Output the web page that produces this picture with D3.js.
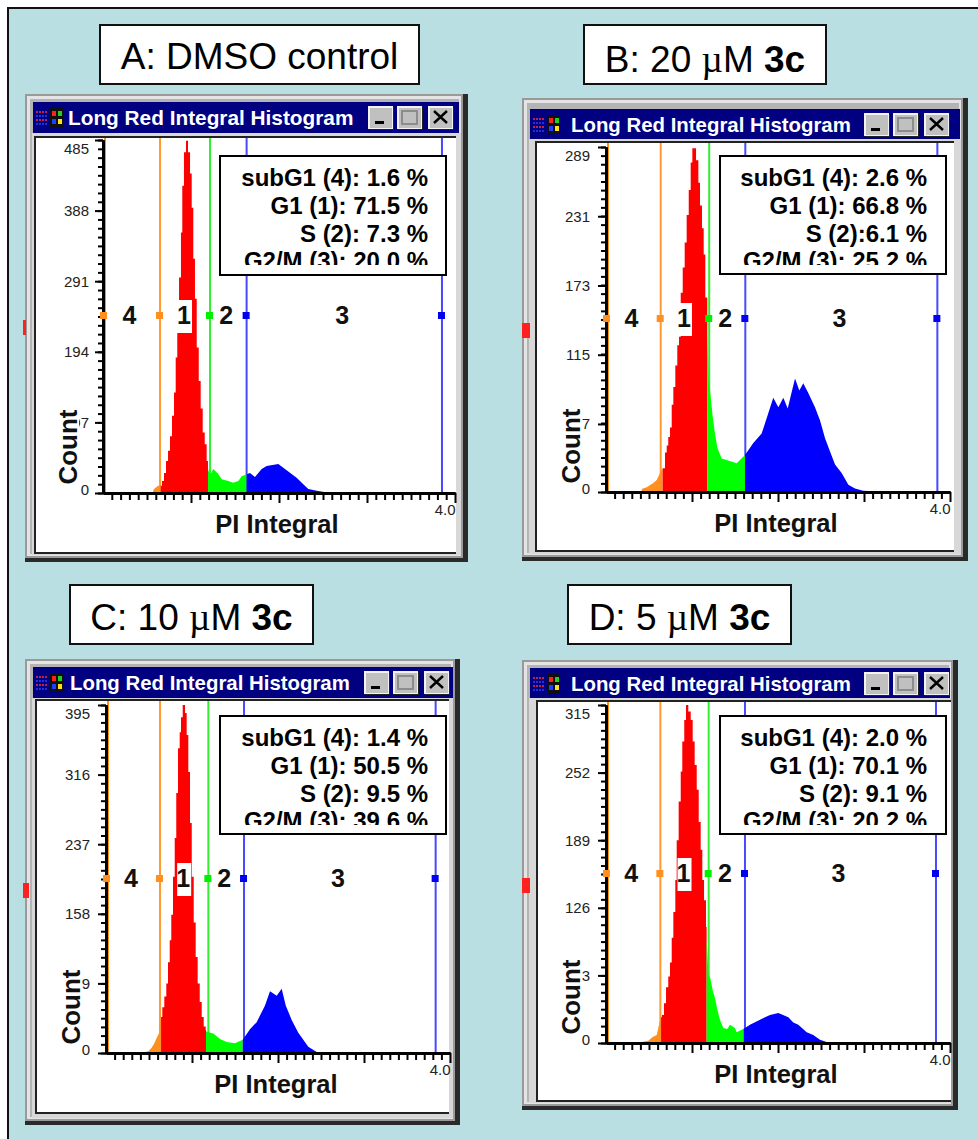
<!DOCTYPE html>
<html>
<head>
<meta charset="utf-8">
<script src="https://cdn.jsdelivr.net/npm/d3@7"></script>
<style>
  html, body { margin: 0; padding: 0; background: #fff; }
  svg { display: block; font-family: "Liberation Sans", Arial, sans-serif; }
</style>
</head>
<body>
<div id="chart"></div>
<script>
// histogram outlines: position (decades) and count
var aPos = [.57,.58,.625,.648,.67,.693,.716,.739,.761,.784,.807,.826,.844,.864,.886,.901,.92,.943,.966,.989,1.008,1.026,1.045,1.065,1.088,1.11,1.133,1.156,1.178,1.2,1.224,1.253,1.31,1.349,1.424,1.48,1.538,1.576,1.67,1.727,1.803,1.86,1.992,2.068,2.2,2.276,2.333,2.43,2.58];
var aCount = [3,5.5,10,10,16.5,27.5,44,58,78,106,138,186,220,296,358,422,468,484,468,439,392,322,267,200,154,116,83,67,44,30,26,33,26,19,16.5,14,16.5,23,27.5,22,33,37,40,33,21,12,5.5,3,0];

var bPos = [.415,.473,.55,.59,.628,.659,.686,.706,.724,.744,.764,.783,.806,.829,.849,.869,.892,.915,.938,.962,.985,1.004,1.047,1.074,1.093,1.116,1.136,1.155,1.178,1.194,1.217,1.241,1.267,1.295,1.345,1.52,1.616,1.713,1.81,1.887,1.945,2.004,2.062,2.113,2.16,2.198,2.248,2.294,2.352,2.43,2.488,2.547,2.605,2.663,2.74,2.818,2.895,2.99,3.3];
var bCount = [2.5,4,7.5,10,16,20,33,39,46,54,73,88,106,123,130,167,188,209,232,253,276,288,278,259,240,221,199,163,130,94,80,63,49,37,28,24,31,41,49,66,79,71,79,70,84,95,85,91,83,71,60,45,34,23,16,6,3,1,0];

var cPos = [.453,.492,.531,.562,.589,.62,.64,.655,.678,.701,.721,.741,.759,.779,.799,.817,.837,.857,.872,.892,.919,.938,.957,.977,.997,1.02,1.043,1.066,1.09,1.113,1.136,1.159,1.171,1.248,1.326,1.403,1.5,1.59,1.674,1.752,1.849,1.907,1.985,2.043,2.09,2.159,2.236,2.294,2.352,2.45,2.58];
var cCount = [1,2,6,11,17,23,41,52,64,79,103,128,157,200,244,295,346,364,381,395,386,361,319,261,200,148,109,79,58,41,30,26,24,22,16,12.5,11,15,27,35,54,70,65,73,54,37.5,23,15,7,1,0];

var dPos = [.415,.492,.543,.59,.636,.651,.674,.698,.724,.744,.764,.783,.806,.822,.845,.869,.887,.91,.93,.957,.985,1.008,1.031,1.055,1.078,1.101,1.12,1.14,1.163,1.19,1.217,1.241,1.267,1.295,1.326,1.364,1.41,1.442,1.5,1.52,1.616,1.674,1.849,1.907,2.004,2.12,2.178,2.236,2.334,2.41,2.488,2.566,2.81];
var dCount = [1,2,5.6,7.5,24,26,37,52,62,75,98,122,152,189,225,253,281,301,315,309,301,281,259,236,206,180,152,133,108,65,59,49,42,31,21.5,14,13,17,14,10,14,17,24,26,28,24,19,17,10,7.5,3,1,0];

// y tick labels of each window
var aTicks = [0,97,194,291,388,485];
var bTicks = [0,57,115,173,231,289];
var cTicks = [0,79,158,237,316,395];
var dTicks = [0,63,126,189,252,315];

// gates: orange, green, blue, right blue (decades)
var aGates = [.648,1.216,1.632,3.852];
var bGates = [.636,1.2,1.62,3.853];
var cGates = [.628,1.19,1.605,3.833];
var dGates = [.632,1.194,1.616,3.837];

// where the fill changes colour
var aBreaks = [.656,1.193,1.632];
var bBreaks = [.659,1.178,1.616];
var cBreaks = [.64,1.163,1.59];
var dBreaks = [.64,1.17,1.6];

var aStats = ["subG1 (4): 1.6 %","G1 (1): 71.5 %","S (2): 7.3 %","G2/M (3): 20.0 %"];
var bStats = ["subG1 (4): 2.6 %","G1 (1): 66.8 %","S (2):6.1 %","G2/M (3): 25.2 %"];
var cStats = ["subG1 (4): 1.4 %","G1 (1): 50.5 %","S (2): 9.5 %","G2/M (3): 39.6 %"];
var dStats = ["subG1 (4): 2.0 %","G1 (1): 70.1 %","S (2): 9.1 %","G2/M (3): 20.2 %"];

var windowTitle = "Long Red Integral Histogram";

var width = 978, height = 1139;

var panels = [
  {pos: aPos, count: aCount, ticks: aTicks, gates: aGates, breaks: aBreaks, stats: aStats,
   outer: [25,468,94,562], title: [33,459,102,133], client: [36,456,138,552], marker: [23,26],
   x0: 103, unit: 88, y0: 493, yTop: 140, handleY: 315, btnX: 368, labelGap: 14, textX: 68,
   head: {box: [99,420,24,85], base: 69, parts: [["A: DMSO control", ""]]},
   statBox: [219,447,155,276], statRight: 428, statY: 186},
  {pos: bPos, count: bCount, ticks: bTicks, gates: bGates, breaks: bBreaks, stats: bStats,
   outer: [522,968,98,561], title: [530,960,109,139], client: [537,954,143,550], marker: [522,530],
   x0: 606, unit: 86, y0: 492, yTop: 147, handleY: 318, btnX: 864, labelGap: 16, textX: 571,
   head: {box: [583,827,24,85], base: 72, parts: [["B: 20 ", ""], ["\u00b5", "mu"], ["M ", ""], ["3c", "b"]]},
   statBox: [719,947,155,275], statRight: 927, statY: 186},
  {pos: cPos, count: cCount, ticks: cTicks, gates: cGates, breaks: cBreaks, stats: cStats,
   outer: [25,460,659,1125], title: [33,453,667,698], client: [37,449,701,1112], marker: [23,29],
   x0: 106, unit: 86, y0: 1053, yTop: 705, handleY: 878, btnX: 364, labelGap: 16, textX: 70,
   head: {box: [69,314,584,645], base: 630, parts: [["C: 10 ", ""], ["\u00b5", "mu"], ["M ", ""], ["3c", "b"]]},
   statBox: [219,447,715,835], statRight: 428, statY: 746},
  {pos: dPos, count: dCount, ticks: dTicks, gates: dGates, breaks: dBreaks, stats: dStats,
   outer: [522,958,660,1110], title: [530,950,668,698], client: [538,951,702,1100], marker: [522,530],
   x0: 606, unit: 86, y0: 1043, yTop: 705, handleY: 873, btnX: 864, labelGap: 16, textX: 571,
   head: {box: [567,792,584,645], base: 630, parts: [["D: 5 ", ""], ["\u00b5", "mu"], ["M ", ""], ["3c", "b"]]},
   statBox: [719,947,715,835], statRight: 927, statY: 746}
];

var fillColors = ["#ff9020", "#ff0000", "#00ff00", "#0000ff"];
var gateColors = ["#ff9a30", "#33ee33", "#4848ff", "#4848ff"];
var handleColors = ["#ff9020", "#00f000", "#0000f0", "#0000f0"];

var svg = d3.select("#chart").append("svg")
  .attr("width", width)
  .attr("height", height);

// slide background
svg.append("rect").attr("x", 8).attr("y", 8).attr("width", width).attr("height", height)
  .attr("fill", "#b9dfe2").attr("stroke", "#111").attr("stroke-width", 2);

function box(g, x1, x2, y1, y2, fill) {
  return g.append("rect")
    .attr("x", x1).attr("y", y1)
    .attr("width", x2 - x1).attr("height", y2 - y1)
    .attr("fill", fill);
}

function drawButton(g, x, y, kind) {
  box(g, x + 1, x + 26, y + 1, y + 24, "#222");
  box(g, x, x + 25, y, y + 23, "#f2f2f2");
  box(g, x + 2, x + 24, y + 2, y + 22, "#c0c0c0");
  if (kind == "min") {
    box(g, x + 7, x + 16, y + 15, y + 18, "#000");
  } else if (kind == "max") {
    g.append("rect").attr("x", x + 5).attr("y", y + 5).attr("width", 15).attr("height", 13)
      .attr("fill", "none").attr("stroke", "#8c8c8c").attr("stroke-width", 2);
  } else {
    g.append("path").attr("d", "M" + (x + 6) + "," + (y + 5) + "L" + (x + 19) + "," + (y + 17)
      + "M" + (x + 19) + "," + (y + 5) + "L" + (x + 6) + "," + (y + 17))
      .attr("stroke", "#000").attr("stroke-width", 2.4);
  }
}

function drawIcon(g, x, y) {
  // little program icon in the title bar
  d3.range(4).forEach(function(r) {
    d3.range(4).forEach(function(c) {
      box(g, x + c * 3, x + c * 3 + 2, y + r * 4 + 1, y + r * 4 + 3, r % 2 ? "#2030e0" : "#c02050");
    });
  });
  box(g, x + 14, x + 27, y - 2, y + 17, "#101010");
  box(g, x + 16, x + 20, y + 1, y + 6, "#ff2020");
  box(g, x + 22, x + 26, y + 1, y + 6, "#20d020");
  box(g, x + 16, x + 20, y + 9, y + 14, "#2040ff");
  box(g, x + 22, x + 26, y + 9, y + 14, "#ffe020");
}

function drawPanel(p) {
  var g = svg.append("g");
  var o = p.outer, t = p.title, cl = p.client;

  // window frame
  box(g, o[0], o[1], o[2], o[3], "#2a2a2a");
  box(g, o[0], o[1] - 5, o[2], o[3] - 4, "#9a9a9a");
  box(g, o[0] + 2, o[1] - 7, o[2] + 2, o[3] - 6, "#e4e4e4");
  box(g, o[0] + 5, o[1] - 9, o[2] + 5, o[3] - 8, "#b4b4b4");
  box(g, o[0] + 7, o[1] - 7, t[3], o[3] - 7, "#d8d8d8");
  box(g, t[0], t[1], t[2], t[3], "#000080");
  box(g, cl[0] - 2, cl[1], cl[2] - 2, cl[3] + 2, "#222");
  box(g, cl[0], cl[1], cl[2], cl[3], "#fff");

  drawIcon(g, t[0] + 3, t[2] + 8);
  g.append("text")
    .attr("x", p.textX).attr("y", t[2] + 23)
    .attr("font-size", p.unit == 88 ? 20.8 : 20.4).attr("font-weight", "bold").attr("fill", "#fff")
    .text(windowTitle);
  drawButton(g, p.btnX, t[2] + 4, "min");
  drawButton(g, p.btnX + 29, t[2] + 4, "max");
  drawButton(g, p.btnX + 60, t[2] + 4, "close");

  // red marker on the left of the frame
  box(g, p.marker[0], p.marker[1], p.handleY + 5, p.handleY + 20, "#ff2020");

  var x = d3.scaleLinear().domain([0, 4]).range([p.x0, p.x0 + 4 * p.unit]);
  var yMax = p.ticks[p.ticks.length - 1];
  var y = d3.scaleLinear().domain([0, yMax]).range([p.y0, p.yTop]);

  // gate lines sit behind the fill
  g.append("line").attr("x1", p.x0 + 2).attr("x2", p.x0 + 2)
    .attr("y1", cl[2]).attr("y2", p.y0)
    .attr("stroke", "#ff9020").attr("stroke-width", 2);
  p.gates.forEach(function(d, i) {
    g.append("line").attr("x1", x(d)).attr("x2", x(d))
      .attr("y1", cl[2]).attr("y2", p.y0)
      .attr("stroke", gateColors[i]).attr("stroke-width", 2);
  });

  // histogram, one area per gate region; the red peak is drawn as visible steps
  var steps = p.pos.map(function(d, i) { return {x: d, c: p.count[i]}; });
  var edges = [p.pos[0]].concat(p.breaks, [p.pos[p.pos.length - 1]]);
  var countAt = d3.scaleLinear().domain(p.pos).range(p.count);
  var area = d3.area()
    .x(function(d) { return x(d.x); })
    .y0(y(0))
    .y1(function(d) { return y(d.c); });

  function stepped(a, b) {
    var before = steps.filter(function(s) { return s.x <= a; });
    var start = before.length ? before[before.length - 1].c : 0;
    var inside = steps.filter(function(s) { return s.x > a && s.x < b; });
    var last = inside.length ? inside[inside.length - 1].c : start;
    return [{x: a, c: start}].concat(inside, [{x: b, c: last}]);
  }

  function sloped(a, b) {
    var inside = steps.filter(function(s) { return s.x > a && s.x < b; });
    return [{x: a, c: countAt(a)}].concat(inside, [{x: b, c: countAt(b)}]);
  }

  fillColors.forEach(function(col, i) {
    var isRed = i == 1;
    g.append("path")
      .attr("d", area.curve(isRed ? d3.curveStepAfter : d3.curveLinear)
        ((isRed ? stepped : sloped)(edges[i], edges[i + 1])))
      .attr("fill", col);
  });

  // x axis
  var xMinor = d3.range(1, 41).map(function(d) { return d / 10; }).filter(function(d) { return d % 1 != 0; });
  g.append("g").attr("transform", "translate(0," + p.y0 + ")")
    .call(d3.axisBottom(x).tickValues(xMinor).tickSize(7).tickSizeOuter(0).tickFormat(""))
    .call(styleAxis);
  g.append("g").attr("transform", "translate(0," + p.y0 + ")")
    .call(d3.axisBottom(x).tickValues([1, 2, 3, 4]).tickSize(10).tickSizeOuter(0)
      .tickFormat(function(d) { return d == 4 ? "4.0" : ""; }))
    .call(styleAxis)
    .selectAll("text")
      .attr("text-anchor", "end")
      .attr("x", 0)
      .attr("y", 11)
      .attr("dy", ".71em")
      .attr("font-size", 15)
      .attr("font-family", "Liberation Sans")
      .attr("fill", "#222");

  // y axis
  var yMinor = d3.range(0, 41).map(function(d) { return d * yMax / 40; });
  g.append("g").attr("transform", "translate(" + p.x0 + ",0)")
    .call(d3.axisLeft(y).tickValues(yMinor).tickSize(5).tickSizeOuter(0).tickFormat(""))
    .call(styleAxis);
  g.append("g").attr("transform", "translate(" + p.x0 + ",0)")
    .call(d3.axisLeft(y).tickValues(p.ticks).tickSize(8).tickSizeOuter(0).tickFormat(d3.format("d")))
    .call(styleAxis)
    .selectAll("text")
      .attr("x", -p.labelGap)
      .attr("font-size", 15)
      .attr("font-family", "Liberation Sans")
      .attr("fill", "#222")
      .attr("dy", function(d) { return d == yMax ? ".9em" : d == 0 ? ".1em" : ".32em"; });
  box(g, p.x0 - 1, p.x0 + 1, p.yTop, p.y0 + 1, "#000");

  // axis titles; Count has a white backing that hides part of the tick label
  box(g, p.x0 - 47, p.x0 - 24, p.y0 - 84, p.y0 - 8, "#fff");
  g.append("text")
    .attr("transform", "translate(" + (p.x0 - 26) + "," + (p.y0 - 46) + ") rotate(-90)")
    .attr("text-anchor", "middle")
    .attr("font-size", 26).attr("font-weight", "bold").attr("fill", "#111")
    .text("Count");
  g.append("text")
    .attr("x", x(2) - 2).attr("y", p.y0 + 40)
    .attr("text-anchor", "middle")
    .attr("font-size", 25.5).attr("font-weight", "bold").attr("fill", "#111")
    .text("PI Integral");

  // gate handles and region numbers
  [p.x0 + 1].concat(p.gates.map(x)).forEach(function(d, i) {
    var col = i == 0 ? handleColors[0] : handleColors[i - 1];
    box(g, d - 4, d + 3, p.handleY - 3, p.handleY + 4, col);
  });
  var gateX = [p.x0].concat(p.gates.map(x));
  ["4", "1", "2", "3"].forEach(function(n, i) {
    var mid = (gateX[i] + gateX[i + 1]) / 2 - 2;
    if (n == "1") {
      mid += 1;
      box(g, mid - 6, mid + 8, p.handleY - 15, p.handleY + 18, "#fff");
    }
    g.append("text")
      .attr("x", mid).attr("y", p.handleY + 9)
      .attr("text-anchor", "middle")
      .attr("font-size", 25).attr("font-weight", "bold").attr("fill", "#111")
      .text(n);
  });

  // percentages box, last line is cut off by the box in the original
  var sb = p.statBox;
  box(g, sb[0], sb[1], sb[2], sb[3], "#000");
  box(g, sb[0] + 2, sb[1] - 2, sb[2] + 2, sb[3] - 2, "#fff");
  p.stats.forEach(function(s, i) {
    g.append("text")
      .attr("x", p.statRight).attr("y", p.statY + i * 27.8)
      .attr("text-anchor", "end")
      .attr("font-size", 24).attr("font-weight", "bold").attr("fill", "#000")
      .text(s);
  });
  box(g, sb[0] + 2, sb[1] - 2, sb[2] + 110, sb[3] - 2, "#fff");

  // panel heading
  var h = p.head;
  box(g, h.box[0], h.box[1], h.box[2], h.box[3], "#111");
  box(g, h.box[0] + 2, h.box[1] - 2, h.box[2] + 2, h.box[3] - 2, "#fff");
  var head = g.append("text")
    .attr("x", (h.box[0] + h.box[1]) / 2).attr("y", h.base)
    .attr("text-anchor", "middle")
    .attr("font-size", 37).attr("fill", "#000");
  h.parts.forEach(function(part) {
    var ts = head.append("tspan").text(part[0]);
    if (part[1] == "b") ts.attr("font-weight", "bold");
    if (part[1] == "mu") ts.attr("font-family", "Liberation Serif");
  });
}

function styleAxis(sel) {
  sel.select(".domain").attr("stroke", "#000").attr("stroke-width", 3);
  sel.selectAll(".tick line").attr("stroke", "#000").attr("stroke-width", 2);
}

panels.forEach(drawPanel);
</script>
</body>
</html>
